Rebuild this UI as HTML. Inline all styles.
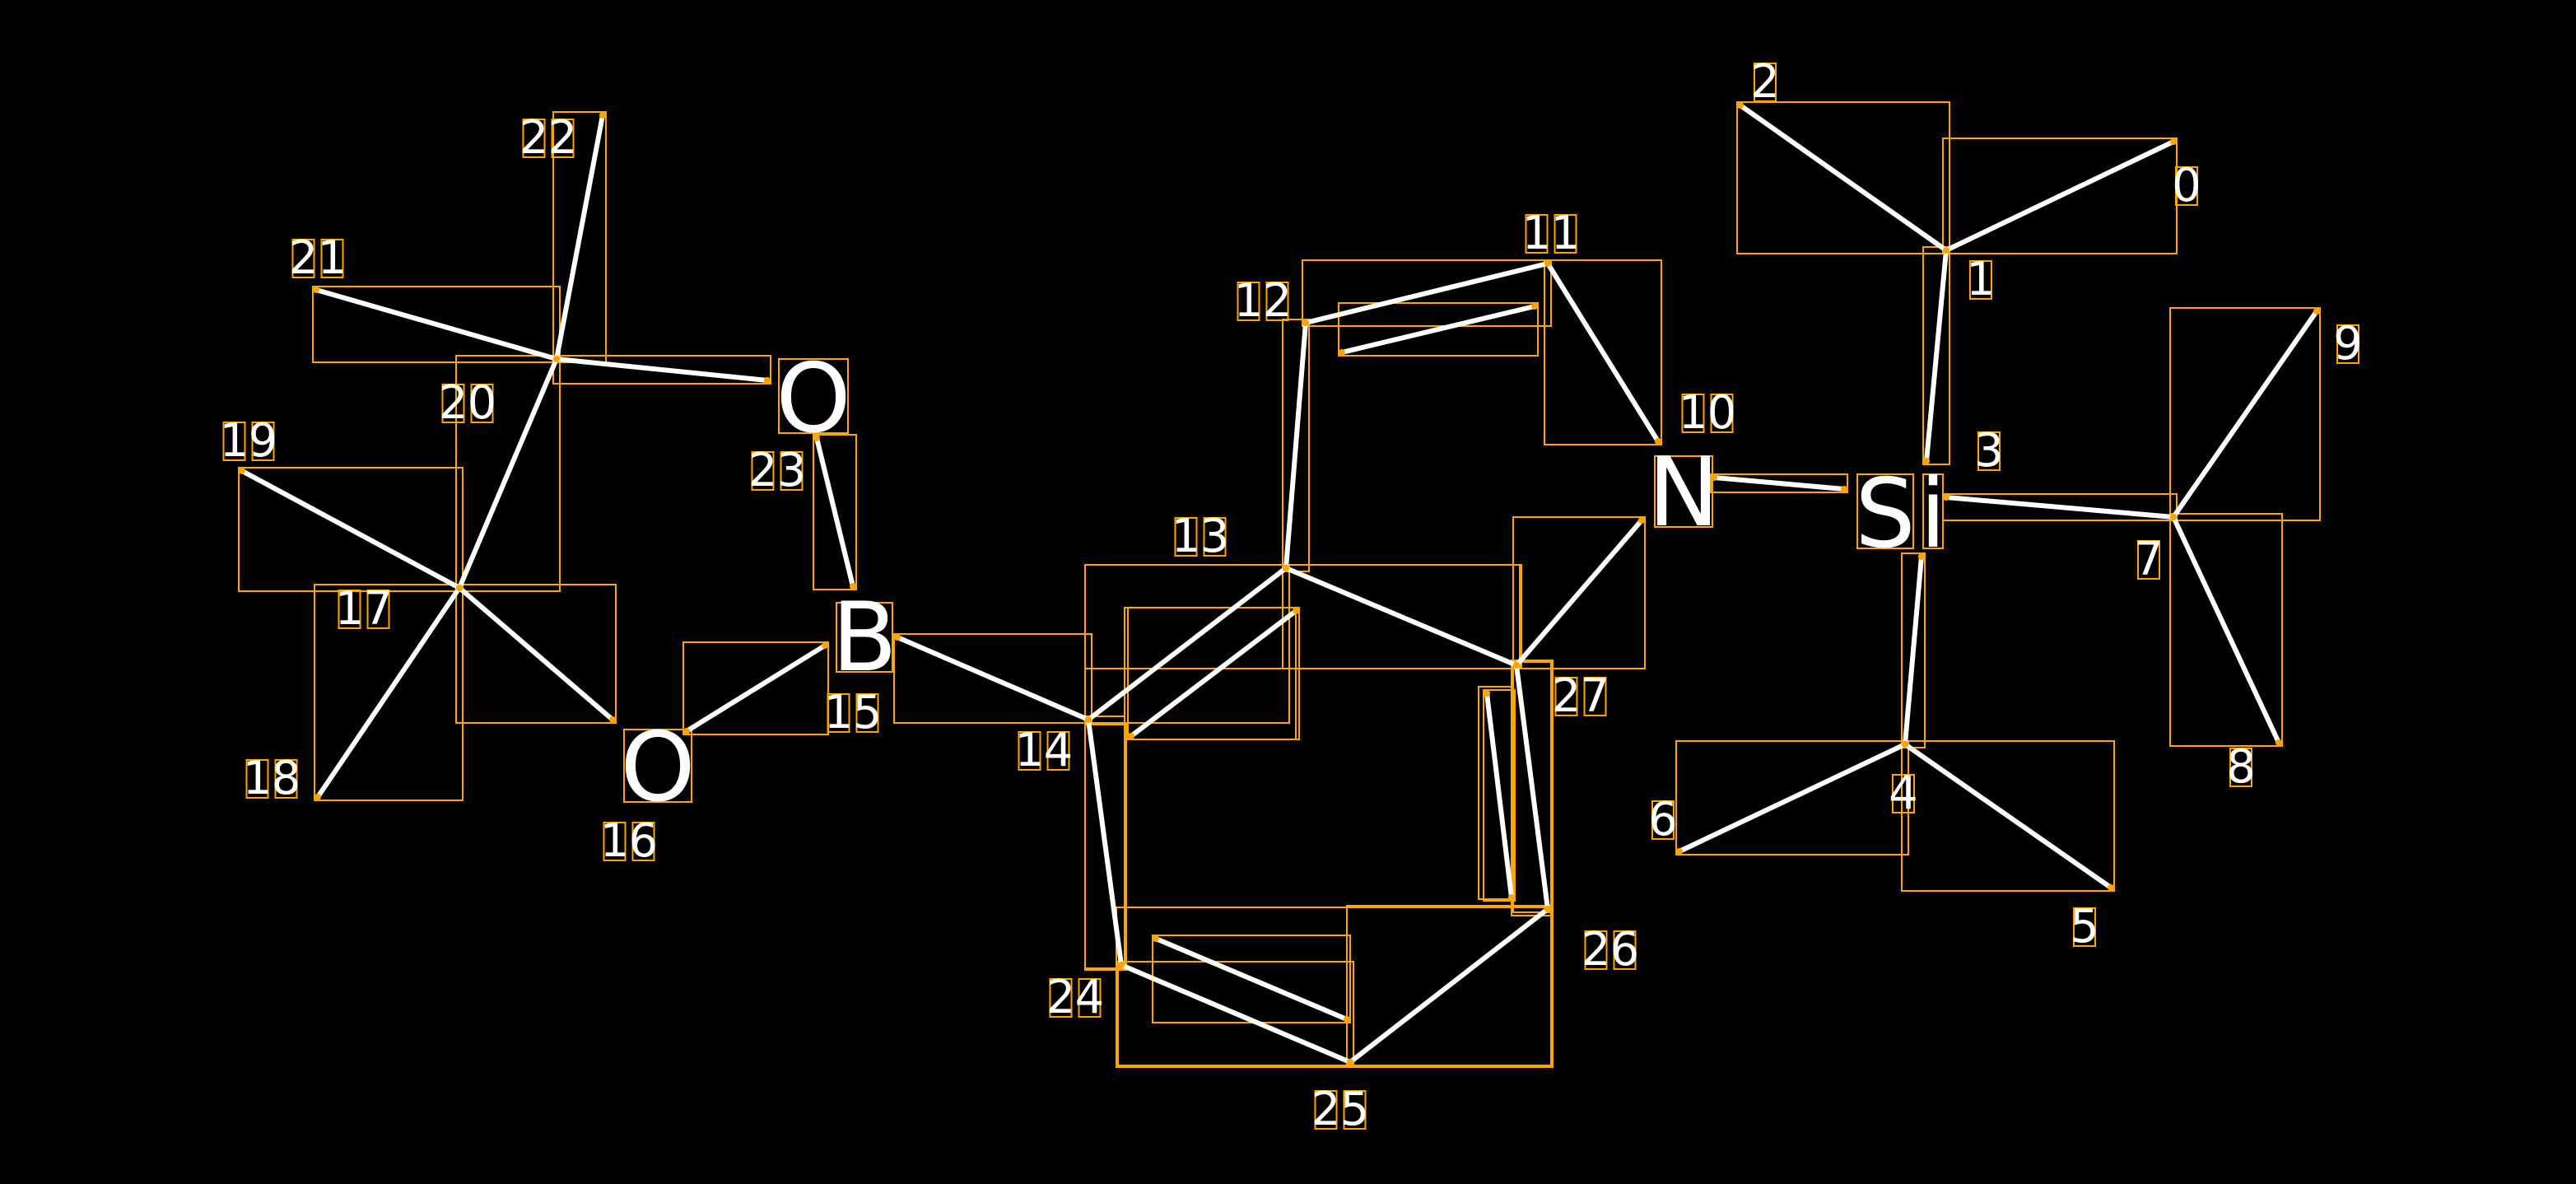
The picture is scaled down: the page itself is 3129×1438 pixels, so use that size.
<!DOCTYPE html>
<html><head><meta charset="utf-8"><style>
html,body{margin:0;padding:0;background:#000;}
svg{display:block}
</style></head><body>
<svg id="s" width="3129" height="1438" viewBox="0 0 1564.5 719" xmlns="http://www.w3.org/2000/svg">
<rect width="1564.5" height="719" fill="#000"/>
<g id="boxes" fill="none" stroke="#FFA500" stroke-width="1"></g>
<g id="bonds" stroke="#fff" stroke-width="3" stroke-linecap="butt"></g>
<g id="dots" fill="#FFA500"></g>
<g id="labels" font-family="DejaVu Sans, sans-serif" fill="#fff"></g>
</svg>
<script>
var NS="http://www.w3.org/2000/svg";
function el(p,t,a,txt){var e=document.createElementNS(NS,t);for(var k in a)e.setAttribute(k,a[k]);if(txt!==undefined)e.textContent=txt;document.getElementById(p).appendChild(e);return e;}
var bonds=[
[1182,152,1320,86],[1182,152,1057,64],[1182,152,1170,280],
[1182,302,1320,314],[1320,314,1407,189],[1320,314,1384,451],
[1167,338,1157,452],[1157,452,1020,517],[1157,452,1282,539],
[1041,290,1120,297],[997,316,921,404],[940,160,1007,268],
[793,196,940,160],[815,214,932,186],[793,196,781,345],
[781,345,921,404],[781,345,661,437],[687,447,787,371],
[921,404,940,552],[903,421,918,545],[940,552,820,645],
[820,645,681,586],[702,570,818,619],[681,586,661,437],
[661,437,545,387],[417,444,501,392],[496,266,518,356],
[338,218,466,231],[338,218,366,70],[338,218,192,176],
[338,218,279,357],[279,357,147,286],[279,357,193,484],[279,357,372,437]
];
bonds.forEach(function(b){
 var x0=Math.min(b[0],b[2])-2,y0=Math.min(b[1],b[3])-2,x1=Math.max(b[0],b[2])+2,y1=Math.max(b[1],b[3])+2;
 el("boxes","rect",{x:x0,y:y0,width:x1-x0,height:y1-y0});
 el("bonds","line",{x1:b[0],y1:b[1],x2:b[2],y2:b[3]});
 el("dots","circle",{cx:b[0],cy:b[1],r:2});
 el("dots","circle",{cx:b[2],cy:b[3],r:2});
});
[[659,343,924,406],[683,369,787,449],[659,440,684,589],[918,401,943,556],[678,551,943,648],[898,417,918,546]].forEach(function(r){
 el("boxes","rect",{x:r[0],y:r[1],width:r[2]-r[0],height:r[3]-r[1]});
});
var atoms=[["N",1005,277,1040,320],["S",1128,288,1162,333],["i",1168,288,1180,333],["O",473,218,515,263],["B",508,366,542,408],["O",379,443,420,487]];
atoms.forEach(function(a){
 el("boxes","rect",{x:a[1],y:a[2],width:a[3]-a[1],height:a[4]-a[2]});
 el("labels","text",{x:(a[1]+a[3])/2,y:a[4]-1,"font-size":58,"text-anchor":"middle"},a[0]);
});
var labs=[["0",1328,113],["1",1203,170],["2",1072,50],["3",1208,274],["4",1156,482],["5",1266,563],["6",1010,498],["7",1305,340],["8",1361,466],["9",1426,209],["10",1037,251],["11",942,142],["12",767,183],["13",729,326],["14",634,456],["15",518,433],["16",382,511],["17",221,370],["18",165,473],["19",151,268],["20",284,245],["21",193,157],["22",333,84],["23",472,286],["24",653,606],["25",814,674],["26",978,577],["27",960,423]];
labs.forEach(function(l){
 var s=l[0],n=s.length,step=17.5,start=l[1]-(n-1)*step/2;
 for(var i=0;i<n;i++){
  var cx=start+i*step;
  el("boxes","rect",{x:cx-6.5,y:l[2]-11.5,width:13,height:23});
  el("labels","text",{x:cx,y:l[2]+9,"font-size":28,"text-anchor":"middle"},s[i]);
 }
});
</script>
</body></html>
